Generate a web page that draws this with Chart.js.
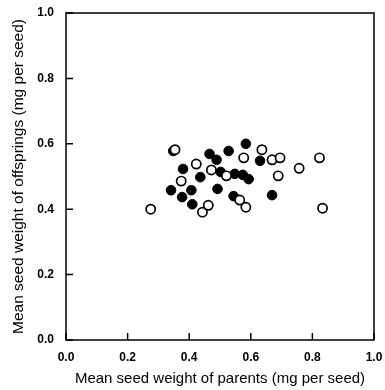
<!DOCTYPE html>
<html>
<head>
<meta charset="utf-8">
<script src="https://cdn.jsdelivr.net/npm/chart.js@4/dist/chart.umd.min.js"></script>
<style>
  html, body { margin: 0; padding: 0; background: #fff; }
  canvas { display: block; }
</style>
</head>
<body>
<canvas id="c" width="385" height="390"></canvas>
<script>
// filled circles (parents weight, offspring weight)
var parentsFilled = [0.348, 0.466, 0.489, 0.528, 0.584, 0.380, 0.436, 0.502, 0.548, 0.574,
  0.593, 0.341, 0.407, 0.492, 0.377, 0.410, 0.544, 0.630, 0.669];
var offspringFilled = [0.578, 0.569, 0.551, 0.578, 0.600, 0.523, 0.498, 0.514, 0.508, 0.505,
  0.492, 0.458, 0.458, 0.462, 0.437, 0.415, 0.440, 0.548, 0.443];

// open circles
var parentsOpen = [0.354, 0.423, 0.374, 0.472, 0.521, 0.577, 0.636, 0.669, 0.695, 0.689,
  0.757, 0.823, 0.833, 0.275, 0.443, 0.462, 0.564, 0.584];
var offspringOpen = [0.582, 0.538, 0.486, 0.520, 0.502, 0.557, 0.582, 0.551, 0.557, 0.502,
  0.525, 0.557, 0.403, 0.400, 0.391, 0.412, 0.428, 0.406];

var axisTicks = [0, 0.2, 0.4, 0.6, 0.8, 1.0];

function toPoints(xs, ys) {
  return xs.map(function(v, i) { return {x: v, y: ys[i]}; });
}

var FONT = '"Liberation Sans", Arial, Helvetica, sans-serif';

// box frame + inward tick marks
var frameTicks = {
  id: 'frameTicks',
  afterDraw: function(chart) {
    var ctx = chart.ctx, a = chart.chartArea;
    var x = chart.scales.x, y = chart.scales.y;
    ctx.save();
    ctx.strokeStyle = '#000';
    ctx.lineWidth = 1.5;
    ctx.strokeRect(a.left, a.top, a.right - a.left, a.bottom - a.top);
    ctx.beginPath();
    axisTicks.forEach(function(v) {
      var px = x.getPixelForValue(v);
      ctx.moveTo(px, a.bottom);
      ctx.lineTo(px, a.bottom - 7);
      var py = y.getPixelForValue(v);
      ctx.moveTo(a.left, py);
      ctx.lineTo(a.left + 7, py);
    });
    ctx.stroke();
    ctx.restore();
  }
};

function tickOpts() {
  return {
    stepSize: 0.2,
    color: '#000',
    font: {family: FONT, size: 12, weight: 'bold'},
    callback: function(v) { return v.toFixed(1); }
  };
}

new Chart(document.getElementById('c'), {
  type: 'scatter',
  data: {
    datasets: [{
      label: 'open',
      data: toPoints(parentsOpen, offspringOpen),
      backgroundColor: '#fff',
      borderColor: '#000',
      borderWidth: 1.7,
      pointRadius: 4.6
    }, {
      label: 'filled',
      data: toPoints(parentsFilled, offspringFilled),
      backgroundColor: '#000',
      borderColor: '#000',
      borderWidth: 1,
      pointRadius: 4.8
    }]
  },
  options: {
    responsive: false,
    animation: false,
    layout: {padding: {top: 13, right: 11, left: 0, bottom: 0}},
    plugins: {legend: {display: false}, tooltip: {enabled: false}},
    scales: {
      x: {
        type: 'linear', min: 0, max: 1,
        grid: {display: false},
        border: {display: false},
        ticks: Object.assign(tickOpts(), {padding: 2, maxRotation: 0}),
        title: {
          display: true, color: '#000',
          text: 'Mean seed weight of parents (mg per seed)',
          font: {family: FONT, size: 15},
          padding: {top: 0, bottom: 2}
        },
        afterFit: function(s) { s.height = 50; }
      },
      y: {
        type: 'linear', min: 0, max: 1,
        grid: {display: false},
        border: {display: false},
        ticks: Object.assign(tickOpts(), {padding: 4}),
        title: {
          display: true, color: '#000',
          text: 'Mean seed weight of offsprings (mg per seed)',
          font: {family: FONT, size: 15.5},
          padding: {top: 9, bottom: 0}
        },
        afterFit: function(s) { s.width = 66; }
      }
    }
  },
  plugins: [frameTicks]
});
</script>
</body>
</html>
